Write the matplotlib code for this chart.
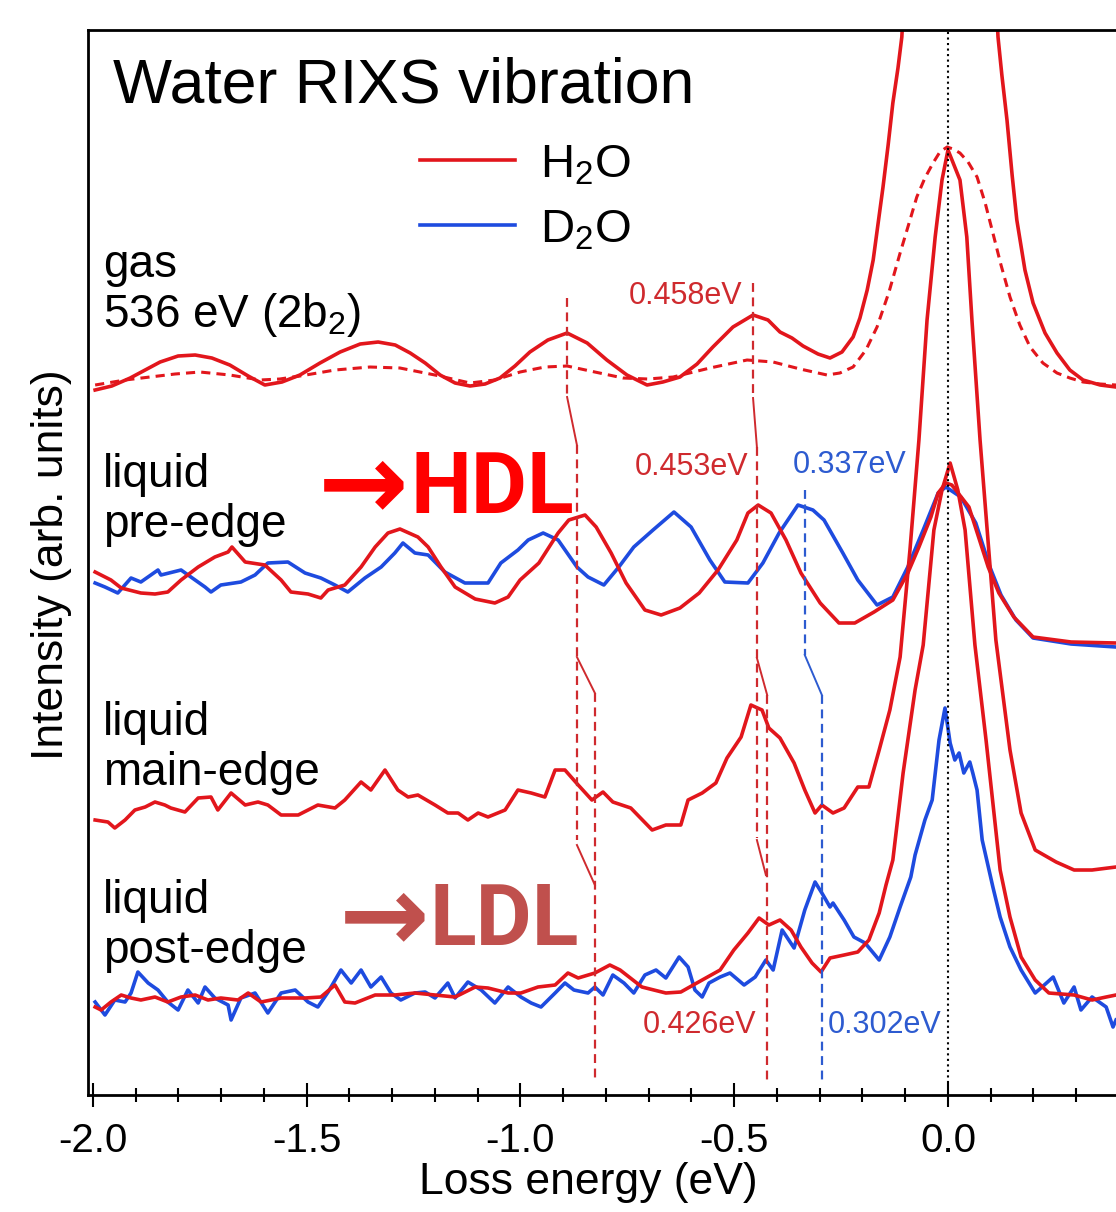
import matplotlib
matplotlib.use('Agg')
import matplotlib.pyplot as plt
from matplotlib.ticker import MultipleLocator

plt.rcParams['font.family'] = ['Liberation Sans', 'DejaVu Sans']
plt.rcParams['mathtext.fontset'] = 'custom'
plt.rcParams['mathtext.rm'] = 'Liberation Sans'
plt.rcParams['mathtext.it'] = 'Liberation Sans:italic'
plt.rcParams['axes.unicode_minus'] = False

RED = '#E2161C'
BLUE = '#1E4BDF'
MARK_RED = '#CF2A2E'
MARK_BLUE = '#2D5BD0'

# ---- spectra (loss energy in eV, intensity in arb. units incl. offsets) ----
gas_x = [-1.995, -1.956, -1.913, -1.878, -1.843, -1.801, -1.761, -1.722, -1.680, -1.637,
         -1.598, -1.558, -1.516, -1.469, -1.422, -1.375, -1.333, -1.293, -1.258, -1.223,
         -1.188, -1.153, -1.118, -1.083, -1.048, -1.013, -0.978, -0.936, -0.891, -0.844,
         -0.798, -0.751, -0.704, -0.667, -0.627, -0.587, -0.550, -0.503, -0.456, -0.421,
         -0.393, -0.365, -0.339, -0.304, -0.276, -0.248, -0.222, -0.206, -0.189, -0.175,
         -0.164, -0.152, -0.140, -0.129, -0.117, -0.108, -0.09, 0.0, 0.10, 0.117,
         0.126, 0.138, 0.150, 0.161, 0.180, 0.199, 0.227, 0.255, 0.285, 0.316,
         0.356, 0.393]
gas_y = [705, 709, 717, 725, 733, 739, 740, 737, 730, 719,
         710, 713, 720, 732, 743, 751, 753, 750, 742, 732,
         720, 712, 709, 711, 717, 729, 743, 755, 762, 752,
         735, 720, 710, 713, 718, 731, 748, 768, 780, 775,
         763, 757, 749, 741, 737, 743, 758, 777, 805, 835,
         870, 908, 950, 992, 1027, 1058, 1200, 1700, 1200, 1058,
         1020, 975, 920, 875, 825, 792, 762, 742, 725, 715,
         710, 708]

gas_sim_x = [-1.995, -1.925, -1.867, -1.808, -1.750, -1.680, -1.609, -1.563, -1.516, -1.434,
             -1.352, -1.282, -1.200, -1.118, -1.060, -1.001, -0.943, -0.891, -0.826, -0.760,
             -0.702, -0.643, -0.557, -0.470, -0.409, -0.346, -0.283, -0.253, -0.222, -0.192,
             -0.166, -0.138, -0.112, -0.091, -0.073, -0.054, -0.035, -0.019, -0.002, 0.012,
             0.028, 0.047, 0.068, 0.087, 0.105, 0.124, 0.145, 0.168, 0.192, 0.222,
             0.255, 0.285, 0.316, 0.356, 0.393]
gas_sim_y = [710, 715, 718, 721, 723, 720, 715, 716, 719, 725,
             728, 727, 720, 712, 715, 723, 728, 729, 723, 717,
             716, 718, 727, 735, 733, 726, 720, 722, 728, 745,
             768, 803, 842, 872, 898, 917, 932, 943, 948, 946,
             942, 933, 918, 892, 862, 830, 798, 770, 748, 732,
             722, 717, 713, 711, 710]

pre_h2o_x = [-1.995, -1.958, -1.934, -1.888, -1.855, -1.825, -1.794, -1.754, -1.715, -1.684,
             -1.675, -1.644, -1.598, -1.560, -1.537, -1.497, -1.467, -1.450, -1.411, -1.373,
             -1.340, -1.310, -1.282, -1.240, -1.216, -1.186, -1.153, -1.106, -1.060, -1.029,
             -1.001, -0.957, -0.912, -0.887, -0.849, -0.823, -0.788, -0.753, -0.709, -0.671,
             -0.627, -0.582, -0.538, -0.494, -0.468, -0.444, -0.414, -0.379, -0.344, -0.299,
             -0.255, -0.218, -0.173, -0.129, -0.094, -0.068, -0.040, -0.023, -0.005, 0.009,
             0.049, 0.094, 0.119, 0.154, 0.199, 0.288, 0.393]
pre_h2o_y = [523, 515, 507, 502, 501, 503, 515, 528, 538, 543,
             548, 533, 530, 515, 503, 501, 497, 505, 510, 528,
             548, 562, 566, 558, 548, 528, 508, 496, 492, 498,
             515, 532, 562, 575, 580, 568, 542, 512, 485, 480,
             487, 502, 525, 555, 582, 590, 582, 555, 522, 492,
             472, 472, 483, 495, 522, 548, 578, 602, 612, 610,
             588, 528, 502, 478, 458, 453, 452]

pre_d2o_x = [-1.995, -1.972, -1.942, -1.911, -1.888, -1.848, -1.841, -1.794, -1.771, -1.738,
             -1.724, -1.701, -1.654, -1.621, -1.591, -1.544, -1.504, -1.467, -1.434, -1.404,
             -1.364, -1.326, -1.294, -1.275, -1.247, -1.216, -1.177, -1.130, -1.076, -1.046,
             -1.006, -0.982, -0.947, -0.912, -0.868, -0.842, -0.805, -0.770, -0.735, -0.690,
             -0.641, -0.601, -0.557, -0.522, -0.468, -0.433, -0.395, -0.351, -0.316, -0.290,
             -0.246, -0.211, -0.166, -0.129, -0.094, -0.058, -0.023, -0.005, 0.030, 0.065,
             0.098, 0.124, 0.159, 0.199, 0.288, 0.393]
pre_d2o_y = [512, 508, 502, 517, 513, 525, 520, 525, 518, 508,
             503, 510, 513, 520, 532, 533, 522, 517, 510, 503,
             517, 528, 542, 552, 542, 540, 523, 512, 512, 532,
             545, 555, 562, 555, 528, 518, 510, 528, 548, 565,
             583, 568, 535, 513, 512, 532, 562, 590, 585, 575,
             542, 515, 490, 498, 528, 565, 602, 608, 598, 572,
             528, 500, 475, 457, 451, 448]

main_h2o_x = [-1.995, -1.965, -1.949, -1.925, -1.902, -1.878, -1.855, -1.832, -1.818, -1.785,
              -1.754, -1.724, -1.708, -1.677, -1.644, -1.614, -1.591, -1.560, -1.520, -1.474,
              -1.434, -1.411, -1.373, -1.350, -1.317, -1.287, -1.263, -1.240, -1.200, -1.170,
              -1.146, -1.123, -1.099, -1.076, -1.036, -1.006, -0.975, -0.943, -0.919, -0.896,
              -0.865, -0.833, -0.807, -0.784, -0.742, -0.692, -0.660, -0.625, -0.608, -0.575,
              -0.543, -0.517, -0.484, -0.461, -0.435, -0.419, -0.393, -0.360, -0.335, -0.311,
              -0.295, -0.269, -0.243, -0.211, -0.185, -0.161, -0.136, -0.112, -0.089, -0.068,
              -0.049, -0.030, -0.014, 0.0, 0.028, 0.044, 0.056, 0.075, 0.112, 0.145,
              0.171, 0.204, 0.253, 0.295, 0.337, 0.393]
main_h2o_y = [275, 273, 267, 275, 285, 288, 293, 290, 287, 283,
              297, 298, 285, 302, 290, 293, 290, 280, 280, 290,
              287, 295, 313, 305, 325, 305, 298, 300, 290, 282,
              282, 275, 282, 278, 285, 305, 302, 298, 325, 325,
              310, 295, 303, 293, 287, 265, 270, 270, 295, 302,
              312, 337, 358, 390, 385, 367, 357, 332, 305, 282,
              290, 282, 287, 308, 308, 345, 385, 438, 545, 655,
              775, 858, 915, 945, 915, 858, 775, 655, 455, 345,
              282, 245, 233, 225, 225, 228]

post_h2o_x = [-1.995, -1.981, -1.958, -1.934, -1.911, -1.888, -1.855, -1.825, -1.794, -1.761,
              -1.731, -1.701, -1.661, -1.637, -1.607, -1.560, -1.504, -1.467, -1.434, -1.411,
              -1.387, -1.340, -1.294, -1.247, -1.200, -1.153, -1.106, -1.076, -1.029, -0.999,
              -0.959, -0.919, -0.889, -0.865, -0.826, -0.791, -0.767, -0.716, -0.660, -0.625,
              -0.575, -0.533, -0.501, -0.468, -0.442, -0.419, -0.393, -0.367, -0.344, -0.318,
              -0.297, -0.276, -0.243, -0.211, -0.185, -0.161, -0.145, -0.129, -0.105, -0.077,
              -0.058, -0.033, -0.014, 0.005, 0.023, 0.040, 0.063, 0.089, 0.122, 0.145,
              0.171, 0.204, 0.236, 0.295, 0.337, 0.370, 0.393]
post_h2o_y = [88, 85, 93, 100, 97, 95, 98, 93, 98, 100,
              95, 97, 95, 102, 93, 97, 97, 98, 110, 93,
              92, 100, 100, 102, 100, 98, 108, 107, 102, 102,
              108, 110, 122, 117, 122, 130, 125, 108, 102, 103,
              115, 125, 145, 162, 177, 170, 175, 165, 148, 132,
              123, 137, 140, 143, 155, 182, 210, 235, 322, 405,
              450, 565, 605, 632, 605, 565, 450, 355, 225, 178,
              138, 115, 102, 100, 95, 98, 100]

post_d2o_x = [-1.995, -1.972, -1.949, -1.925, -1.911, -1.895, -1.871, -1.848, -1.825, -1.801,
              -1.778, -1.754, -1.738, -1.715, -1.684, -1.677, -1.654, -1.621, -1.591, -1.560,
              -1.527, -1.497, -1.474, -1.450, -1.420, -1.396, -1.373, -1.350, -1.326, -1.303,
              -1.280, -1.247, -1.223, -1.200, -1.170, -1.153, -1.123, -1.092, -1.060, -1.029,
              -0.999, -0.975, -0.952, -0.919, -0.896, -0.875, -0.842, -0.826, -0.807, -0.784,
              -0.758, -0.735, -0.709, -0.683, -0.660, -0.629, -0.608, -0.592, -0.575, -0.559,
              -0.533, -0.510, -0.477, -0.451, -0.426, -0.409, -0.388, -0.360, -0.335, -0.311,
              -0.295, -0.276, -0.269, -0.243, -0.220, -0.194, -0.161, -0.136, -0.112, -0.087,
              -0.077, -0.054, -0.037, -0.021, -0.007, 0.005, 0.016, 0.026, 0.037, 0.051,
              0.058, 0.068, 0.080, 0.105, 0.122, 0.145, 0.171, 0.204, 0.220, 0.246,
              0.271, 0.295, 0.311, 0.337, 0.370, 0.386, 0.393]
post_d2o_y = [93, 80, 95, 93, 102, 123, 112, 105, 93, 85,
              105, 92, 108, 97, 90, 75, 97, 102, 82, 102,
              105, 93, 88, 103, 125, 112, 125, 108, 118, 102,
              95, 102, 103, 97, 112, 97, 113, 105, 92, 108,
              98, 92, 88, 102, 112, 105, 102, 108, 100, 120,
              112, 102, 120, 125, 117, 138, 128, 105, 98, 112,
              118, 122, 110, 118, 135, 125, 165, 147, 185, 213,
              202, 188, 192, 175, 158, 152, 135, 158, 188, 218,
              240, 275, 295, 355, 387, 352, 335, 342, 322, 333,
              322, 305, 255, 208, 178, 148, 125, 102, 108, 118,
              92, 108, 85, 98, 88, 68, 75]

# ---- peak-position guide lines: (x0, y0, x1, y1) ----
guide_dashed_red = [(-0.891, 797, -0.891, 700), (-0.868, 650, -0.868, 255), (-0.826, 402, -0.826, 15),
                    (-0.456, 812, -0.456, 702), (-0.447, 648, -0.447, 257), (-0.423, 400, -0.423, 15)]
guide_solid_red = [(-0.891, 698, -0.868, 650), (-0.868, 438, -0.826, 402), (-0.868, 250, -0.826, 210),
                   (-0.456, 697, -0.447, 648), (-0.447, 437, -0.423, 400), (-0.447, 255, -0.426, 220)]
guide_dashed_blue = [(-0.335, 605, -0.335, 440), (-0.295, 400, -0.295, 15)]
guide_solid_blue = [(-0.335, 440, -0.295, 400)]

major_ticks = [-2.0, -1.5, -1.0, -0.5, 0.0]
tick_labels = ['-2.0', '-1.5', '-1.0', '-0.5', '0.0']

fig = plt.figure(figsize=(11.16, 12.12), dpi=100)
ax = fig.add_axes([0.07885, 0.09653, 0.92115, 0.87871])

lw = 2.6
ax.plot(gas_sim_x, gas_sim_y, color=RED, lw=2.2, ls=(0, (3, 2)))
ax.plot(gas_x, gas_y, color=RED, lw=lw)
ax.plot(pre_d2o_x, pre_d2o_y, color=BLUE, lw=lw)
ax.plot(pre_h2o_x, pre_h2o_y, color=RED, lw=lw)
ax.plot(main_h2o_x, main_h2o_y, color=RED, lw=lw)
ax.plot(post_d2o_x, post_d2o_y, color=BLUE, lw=lw)
ax.plot(post_h2o_x, post_h2o_y, color=RED, lw=lw)

for x0, y0, x1, y1 in guide_dashed_red:
    ax.plot([x0, x1], [y0, y1], color=MARK_RED, lw=1.6, ls=(0, (4, 2.5)))
for x0, y0, x1, y1 in guide_solid_red:
    ax.plot([x0, x1], [y0, y1], color=MARK_RED, lw=1.4)
for x0, y0, x1, y1 in guide_dashed_blue:
    ax.plot([x0, x1], [y0, y1], color=MARK_BLUE, lw=1.6, ls=(0, (4, 2.5)))
for x0, y0, x1, y1 in guide_solid_blue:
    ax.plot([x0, x1], [y0, y1], color=MARK_BLUE, lw=1.4)
ax.plot([0, 0], [12, 1063], color='black', lw=1.5, ls=':')

# legend drawn by hand like the original figure
ax.plot([-1.235, -1.013], [935, 935], color=RED, lw=lw)
ax.plot([-1.235, -1.013], [870, 870], color=BLUE, lw=lw)
ax.text(-0.954, 918, r'H$_2$O', fontsize=34, va='baseline')
ax.text(-0.954, 853, r'D$_2$O', fontsize=34, va='baseline')

ax.text(-1.953, 993, 'Water RIXS vibration', fontsize=45, va='baseline')
lab = dict(fontsize=33, va='baseline')
ax.text(-1.977, 818, 'gas', **lab)
ax.text(-1.977, 768, r'536 eV (2b$_2$)', **lab)
ax.text(-1.977, 608, 'liquid', **lab)
ax.text(-1.977, 558, 'pre-edge', **lab)
ax.text(-1.977, 360, 'liquid', **lab)
ax.text(-1.977, 310, 'main-edge', **lab)
ax.text(-1.977, 182, 'liquid', **lab)
ax.text(-1.977, 132, 'post-edge', **lab)

big = ['Liberation Sans Narrow', 'Roboto', 'DejaVu Sans']
arrow_font = dict(fontsize=78, fontweight='bold', va='baseline', family=['DejaVu Sans'])
ax.text(-1.474, 577, '\u2192', color='#FF0000', **arrow_font)
ax.text(-1.258, 582, 'HDL', fontsize=62, fontweight='bold', color='#FF0000',
        va='baseline', family=big)
ax.text(-1.424, 145, '\u2192', color='#C0504D', **arrow_font)
ax.text(-1.212, 150, 'LDL', fontsize=62, fontweight='bold', color='#C0504D',
        va='baseline', family=big)

small = dict(fontsize=22, va='center')
ax.text(-0.480, 799, '0.458eV', color=MARK_RED, ha='right', **small)
ax.text(-0.468, 628, '0.453eV', color=MARK_RED, ha='right', **small)
ax.text(-0.363, 630, '0.337eV', color=MARK_BLUE, ha='left', **small)
ax.text(-0.449, 70, '0.426eV', color=MARK_RED, ha='right', **small)
ax.text(-0.281, 70, '0.302eV', color=MARK_BLUE, ha='left', **small)

ax.set_xlim(-2.0117, 0.393)
ax.set_ylim(0, 1065)
ax.set_xticks(major_ticks)
ax.set_xticklabels(tick_labels)
ax.xaxis.set_minor_locator(MultipleLocator(0.1))
ax.tick_params(axis='x', which='major', direction='inout', length=17, width=1.5,
               pad=11, labelsize=29)
ax.tick_params(axis='x', which='minor', direction='inout', length=10, width=1.5)
ax.set_yticks([])
for s in ['top', 'left', 'bottom']:
    ax.spines[s].set_linewidth(2)
ax.spines['right'].set_visible(False)

ax.set_xlabel('Loss energy (eV)', fontsize=32)
ax.xaxis.set_label_coords(0.487, -0.0625)
ax.set_ylabel('Intensity (arb. units)', fontsize=32)
ax.yaxis.set_label_coords(-0.0156, 0.498)

fig.savefig('out.png', dpi=100)
